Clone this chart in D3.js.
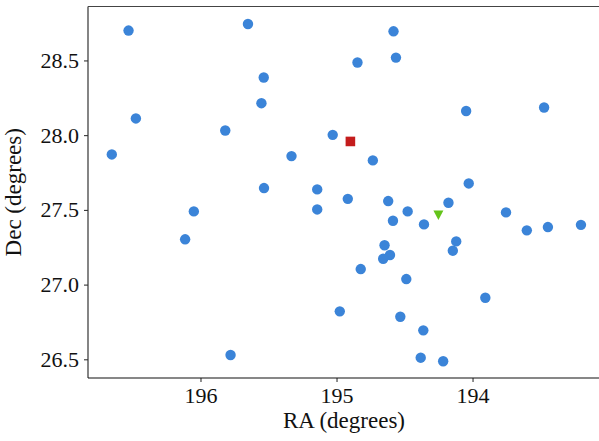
<!DOCTYPE html>
<html>
<head>
<meta charset="utf-8">
<script src="https://cdn.jsdelivr.net/npm/d3@7"></script>
<style>
  body { margin: 0; background: #fff; }
</style>
</head>
<body>
<svg width="599" height="441"></svg>
<script>
// galaxy positions (RA, Dec in degrees)
var ra = [196.529, 195.651, 195.535, 195.552, 196.475, 195.818, 196.652, 195.331, 195.533, 196.049,
          194.581, 194.846, 194.563, 194.047, 193.474, 195.028, 194.733, 195.142, 194.917, 194.620,
          194.177, 193.754, 195.142, 194.028, 194.477, 194.585, 194.357, 194.120, 194.145, 194.647,
          194.607, 194.657, 194.822, 194.487, 193.906, 193.601, 193.446, 193.203, 196.113, 195.779,
          194.976, 194.531, 194.362, 194.381, 194.216];
var dec = [28.700, 28.744, 28.386, 28.214, 28.112, 28.031, 27.871, 27.860, 27.646, 27.490,
           28.695, 28.486, 28.519, 28.162, 28.185, 28.002, 27.831, 27.637, 27.574, 27.559,
           27.548, 27.483, 27.503, 27.677, 27.490, 27.427, 27.403, 27.289, 27.227, 27.263,
           27.198, 27.173, 27.104, 27.037, 26.912, 27.363, 27.385, 27.400, 27.303, 26.529,
           26.821, 26.785, 26.694, 26.511, 26.487];

// red square and green triangle
var squareRa = [194.898], squareDec = [27.958];
var triRa = [194.251], triDec = [27.464];

var xTicks = [196, 195, 194];
var yTicks = [26.5, 27.0, 27.5, 28.0, 28.5];

var serif = "'Times New Roman', Times, 'Liberation Serif', 'DejaVu Serif', serif";

var margin = {top: 6.5, right: -1, bottom: 63, left: 88},
    width = 599 - margin.left - margin.right,
    height = 441 - margin.top - margin.bottom;

var svg = d3.select("svg")
  .append("g")
    .attr("transform", "translate(" + margin.left + "," + margin.top + ")");

// RA runs backwards
var x = d3.scaleLinear().domain([196.827, 193.063]).range([0, width]);
var y = d3.scaleLinear().domain([26.375, 28.861]).range([height, 0]);

// x axis
var xAxis = svg.append("g")
    .attr("transform", "translate(0," + height + ")")
    .call(d3.axisBottom(x).tickValues(xTicks).tickFormat(d3.format("d")).tickSize(4).tickPadding(5));
xAxis.attr("font-family", serif);
xAxis.select(".domain").remove();
xAxis.selectAll("line").attr("stroke", "#222");
xAxis.selectAll("text").style("font-family", serif).style("font-size", "22px").attr("fill", "#111");

// y axis
var yAxis = svg.append("g")
    .call(d3.axisLeft(y).tickValues(yTicks).tickFormat(d3.format(".1f")).tickSize(4).tickPadding(5));
yAxis.attr("font-family", serif);
yAxis.select(".domain").remove();
yAxis.selectAll("line").attr("stroke", "#222");
yAxis.selectAll("text").style("font-family", serif).style("font-size", "22px").attr("fill", "#111");

// spines
svg.append("line").attr("x1", 0).attr("x2", 0).attr("y1", 0).attr("y2", height)
    .attr("stroke", "#333").attr("stroke-width", 1.2);
svg.append("line").attr("x1", 0).attr("x2", width).attr("y1", 0).attr("y2", 0)
    .attr("stroke", "#444").attr("stroke-width", 1.2);
svg.append("line").attr("x1", 0).attr("x2", width).attr("y1", height).attr("y2", height)
    .attr("stroke", "#111").attr("stroke-width", 1.2);

// galaxies
svg.selectAll("circle.gal")
    .data(d3.range(ra.length))
  .enter().append("circle")
    .attr("class", "gal")
    .attr("cx", function(i) { return x(ra[i]); })
    .attr("cy", function(i) { return y(dec[i]); })
    .attr("r", 5.2)
    .attr("fill", "#3b84d8");

// square marker
svg.selectAll("path.sq")
    .data(d3.range(squareRa.length))
  .enter().append("path")
    .attr("class", "sq")
    .attr("d", d3.symbol().type(d3.symbolSquare).size(92))
    .attr("transform", function(i) { return "translate(" + x(squareRa[i]) + "," + y(squareDec[i]) + ")"; })
    .attr("fill", "#c41c1c");

// triangle marker (pointing down)
svg.selectAll("path.tri")
    .data(d3.range(triRa.length))
  .enter().append("path")
    .attr("class", "tri")
    .attr("d", "M-5,-4.8L5,-4.8L0,4.8Z")
    .attr("transform", function(i) { return "translate(" + x(triRa[i]) + "," + y(triDec[i]) + ")"; })
    .attr("fill", "#64c41a");

// axis labels
svg.append("text")
    .attr("x", width / 2)
    .attr("y", height + 50)
    .attr("text-anchor", "middle")
    .style("font-family", serif)
    .style("font-size", "23px")
    .attr("fill", "#111")
    .text("RA (degrees)");

svg.append("text")
    .attr("transform", "translate(" + (-67) + "," + (height / 2) + ") rotate(-90)")
    .attr("text-anchor", "middle")
    .style("font-family", serif)
    .style("font-size", "23px")
    .attr("fill", "#111")
    .text("Dec (degrees)");
</script>
</body>
</html>
